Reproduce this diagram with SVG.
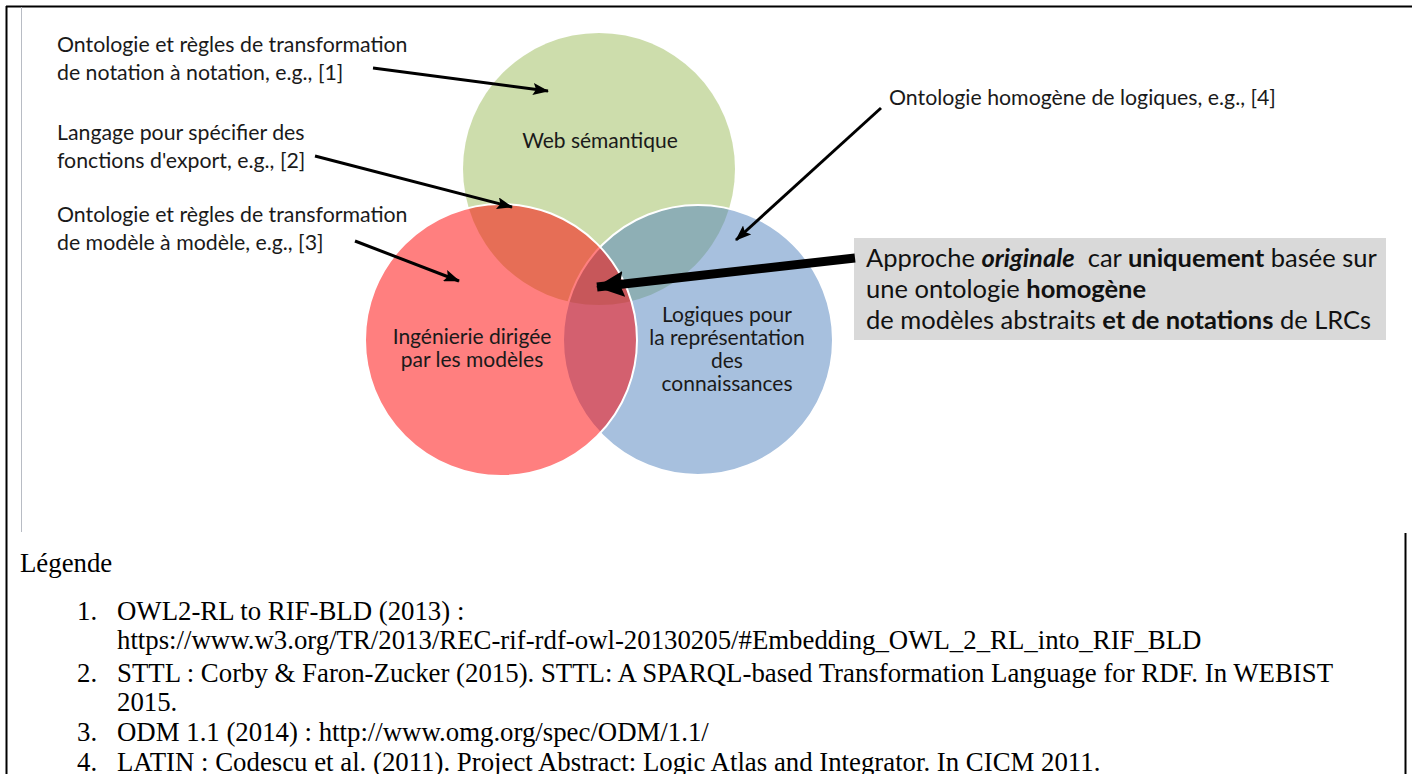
<svg xmlns="http://www.w3.org/2000/svg" width="1412" height="774" viewBox="0 0 1412 774">
  <style>
    .lbl { font-family: Lato, "Open Sans", sans-serif; font-size: 21.3px; fill: #1a1a1a; }
    .ctr { font-family: Lato, "Open Sans", sans-serif; font-size: 21px; fill: #1a1a1a; text-anchor: middle; }
    .box { font-family: Lato, "Open Sans", sans-serif; font-size: 25.5px; fill: #111; }
    .b { font-weight: bold; }
    .bi { font-weight: bold; font-style: italic; }
    .leg { font-family: "Liberation Serif", "Times New Roman", serif; font-size: 26.8px; fill: #000; }
    .thin { stroke: #000; stroke-width: 3; fill: none; marker-end: url(#headThin); }
    .thick { stroke: #000; stroke-width: 9; fill: none; marker-end: url(#headThick); }
  </style>
  <defs>
    <marker id="headThin" markerUnits="userSpaceOnUse" markerWidth="16" markerHeight="12" refX="15" refY="6" orient="auto">
      <path d="M0,0 L16,6 L0,12 L3,6 z" fill="#000"/>
    </marker>
    <marker id="headThick" markerUnits="userSpaceOnUse" markerWidth="28" markerHeight="26" refX="27" refY="13" orient="auto">
      <path d="M0,0 L28,13 L0,26 L4,13 z" fill="#000"/>
    </marker>
  </defs>

  <rect width="1412" height="774" fill="#fff"/>

  <!-- frame lines -->
  <g id="frame">
    <line x1="6" y1="6.5" x2="1412" y2="6.5" stroke="#000" stroke-width="2"/>
    <line x1="6.5" y1="6" x2="6.5" y2="774" stroke="#000" stroke-width="2"/>
    <line x1="21.5" y1="7" x2="21.5" y2="532" stroke="#b8bcc4" stroke-width="1"/>
    <line x1="1405.5" y1="533" x2="1405.5" y2="774" stroke="#000" stroke-width="2"/>
  </g>

  <!-- Venn circles: green first, then blue, red on top, each half transparent -->
  <g id="web-semantique">
    <circle cx="599" cy="169" r="136" fill="#9BBB59" fill-opacity="0.5"/>
  </g>
  <g id="logiques">
    <circle cx="698" cy="340" r="135" fill="#4F81BD" fill-opacity="0.5" stroke="#fff" stroke-width="2"/>
  </g>
  <g id="idm">
    <circle cx="501" cy="340" r="136" fill="#FF0000" fill-opacity="0.5" stroke="#fff" stroke-width="2"/>
  </g>

  <g id="circle-labels">
    <text class="ctr" x="600" y="148">Web sémantique</text>
    <text class="ctr" x="472" y="344">Ingénierie dirigée</text>
    <text class="ctr" x="472" y="367">par les modèles</text>
    <text class="ctr" x="727" y="322">Logiques pour</text>
    <text class="ctr" x="727" y="345">la représentation</text>
    <text class="ctr" x="727" y="368">des</text>
    <text class="ctr" x="727" y="391">connaissances</text>
  </g>

  <g id="note-1">
    <text class="lbl" x="57" y="52">Ontologie et règles de transformation</text>
    <text class="lbl" x="57" y="80">de notation à notation, e.g., [1]</text>
  </g>
  <g id="note-2">
    <text class="lbl" x="57" y="140">Langage pour spécifier des</text>
    <text class="lbl" x="57" y="168">fonctions d'export, e.g., [2]</text>
  </g>
  <g id="note-3">
    <text class="lbl" x="57" y="222">Ontologie et règles de transformation</text>
    <text class="lbl" x="57" y="250">de modèle à modèle, e.g., [3]</text>
  </g>
  <g id="note-4">
    <text class="lbl" x="889" y="105">Ontologie homogène de logiques, e.g., [4]</text>
  </g>

  <g id="approche">
    <rect x="854" y="238" width="532" height="102" fill="#D9D9D9"/>
    <text class="box" x="866" y="267" xml:space="preserve">Approche <tspan class="bi">originale</tspan>  car <tspan class="b">uniquement</tspan> basée sur</text>
    <text class="box" x="866" y="298">une ontologie <tspan class="b">homogène</tspan></text>
    <text class="box" x="866" y="329">de modèles abstraits <tspan class="b">et de notations</tspan> de LRCs</text>
  </g>

  <g id="connectors">
    <line class="thin" x1="373" y1="68" x2="548" y2="91"/>
    <line class="thin" x1="315" y1="156" x2="512" y2="207"/>
    <line class="thin" x1="355" y1="241" x2="459" y2="281"/>
    <line class="thin" x1="881" y1="108" x2="736" y2="240"/>
    <line class="thick" x1="855" y1="258" x2="597" y2="287"/>
  </g>

  <g id="legende">
    <text class="leg" x="20" y="572">Légende</text>
    <text class="leg" x="77" y="620">1.</text>
    <text class="leg" x="117" y="620">OWL2-RL to RIF-BLD (2013) :</text>
    <text class="leg" x="117" y="649">https://www.w3.org/TR/2013/REC-rif-rdf-owl-20130205/#Embedding_OWL_2_RL_into_RIF_BLD</text>
    <text class="leg" x="77" y="682">2.</text>
    <text class="leg" x="117" y="682">STTL : Corby &amp; Faron-Zucker (2015). STTL: A SPARQL-based Transformation Language for RDF. In WEBIST</text>
    <text class="leg" x="117" y="711">2015.</text>
    <text class="leg" x="77" y="741">3.</text>
    <text class="leg" x="117" y="741">ODM 1.1 (2014) : http://www.omg.org/spec/ODM/1.1/</text>
    <text class="leg" x="77" y="771">4.</text>
    <text class="leg" x="117" y="771">LATIN : Codescu et al. (2011). Project Abstract: Logic Atlas and Integrator. In CICM 2011.</text>
  </g>
</svg>
